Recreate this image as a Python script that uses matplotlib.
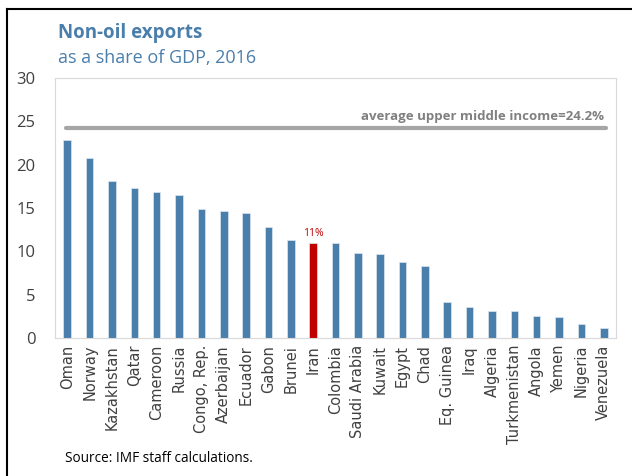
import numpy as np
import matplotlib.pyplot as plt
from matplotlib.lines import Line2D

countries = ['Oman', 'Norway', 'Kazakhstan', 'Qatar', 'Cameroon', 'Russia',
             'Congo, Rep.', 'Azerbaijan', 'Ecuador', 'Gabon', 'Brunei', 'Iran',
             'Colombia', 'Saudi Arabia', 'Kuwait', 'Egypt', 'Chad', 'Eq. Guinea',
             'Iraq', 'Algeria', 'Turkmenistan', 'Angola', 'Yemen', 'Nigeria',
             'Venezuela']
share = [22.9, 20.8, 18.15, 17.35, 16.85, 16.55, 14.85, 14.7, 14.45, 12.85,
         11.3, 11.0, 11.0, 9.8, 9.7, 8.8, 8.35, 4.15, 3.6, 3.1, 3.1, 2.55,
         2.4, 1.65, 1.1]
avg_umi = 24.2
highlight = 'Iran'

blue = '#4a7eab'
red = '#c00000'
grey = '#404040'

plt.rcParams['font.family'] = ['Open Sans', 'DejaVu Sans']

fig = plt.figure(figsize=(6.32, 4.76), dpi=100)
ax = fig.add_axes([55/632, 1 - 338/476, (616 - 55)/632, (338 - 78)/476])

x = np.arange(len(countries))
colors = [red if c == highlight else blue for c in countries]
ax.bar(x, share, width=0.34, color=colors, edgecolor='#dbe6f0', linewidth=0.5)

ax.plot([-0.05, 24.1], [avg_umi, avg_umi], color='#a6a6a6', lw=3,
        solid_capstyle='round')
ax.text(24.0, avg_umi + 0.6, 'average upper middle income=%.1f%%' % avg_umi,
        ha='right', va='bottom', fontsize=9.5, fontweight='bold', color='#808080')

i = countries.index(highlight)
ax.text(i, share[i] + 0.4, '11%', ha='center', va='bottom', fontsize=7.5, color=red)

ax.set_xlim(-0.55, 24.55)
ax.set_ylim(0, 30)
ax.set_yticks(range(0, 31, 5))
ax.set_xticks(x)
ax.set_xticklabels(countries, rotation=90, fontsize=10.5, color=grey,
                   family=['DejaVu Sans'])
ax.tick_params(axis='y', labelsize=12, colors=grey, length=0, pad=14)
ax.tick_params(axis='x', length=0, pad=5)
for s in ax.spines.values():
    s.set_color('#d9d9d9')
    s.set_linewidth(0.8)

fig.text(58/632, 1 - 33/476, 'Non-oil exports', fontsize=13.5, fontweight='bold',
         color=blue, va='center')
fig.text(58/632, 1 - 58/476, 'as a share of GDP, 2016', fontsize=13,
         color=blue, va='center')
fig.text(65/632, 1 - 458/476, 'Source: IMF staff calculations.', fontsize=9.8,
         color='black', va='center')

# frame lines on the left and top
fig.add_artist(Line2D([7/632, 7/632], [0, 1 - 9/476], color='black', lw=1.5,
                      transform=fig.transFigure))
fig.add_artist(Line2D([7/632, 1], [1 - 9/476, 1 - 9/476], color='black', lw=1.5,
                      transform=fig.transFigure))

fig.savefig('out.png', dpi=100)
